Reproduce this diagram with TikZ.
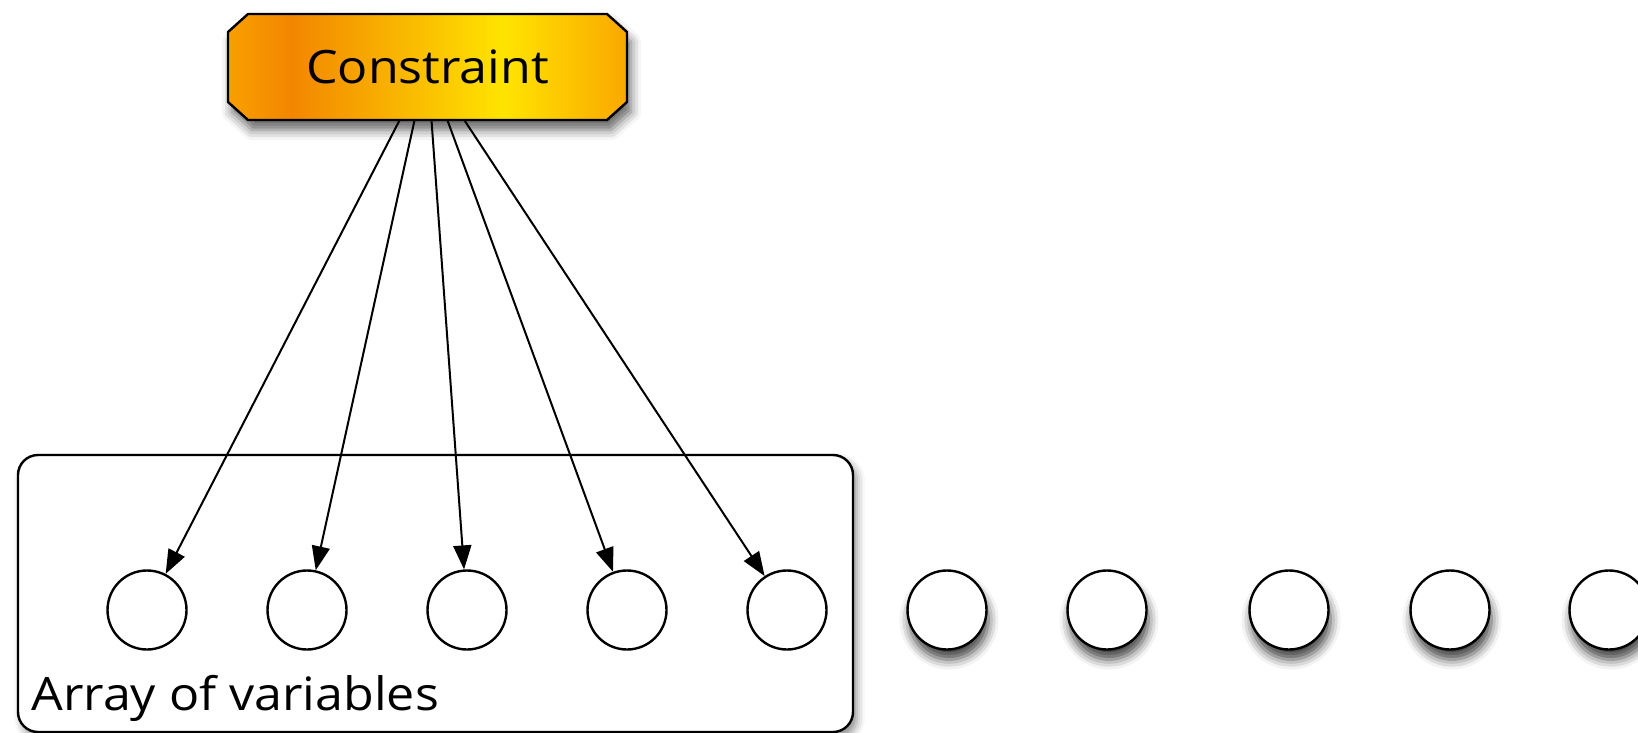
\documentclass[tikz,border=0pt]{standalone}
\usepackage{fontspec}
\setmainfont[FakeStretch=1.09]{Open Sans}
\usetikzlibrary{shadows.blur,arrows.meta,calc}
\definecolor{or1}{RGB}{248,160,0}
\definecolor{or2}{RGB}{243,134,0}
\definecolor{yl}{RGB}{255,228,0}
\definecolor{or3}{RGB}{250,168,0}
\pgfdeclarehorizontalshading{consshade}{100bp}{color(0bp)=(or1); color(25bp)=(or1); color(33bp)=(or2); color(59.5bp)=(yl); color(75bp)=(or3); color(100bp)=(or3)}
\tikzset{
  cons/.style={rectangle, minimum width=199.5pt, minimum height=53pt, inner sep=0pt,
    font=\fontsize{23}{28}\selectfont},
  consbg/.style={draw=black, line width=1.2pt, line join=miter, shading=consshade,
    blur shadow={shadow xshift=2pt, shadow yshift=-5pt, shadow blur radius=5pt, shadow opacity=60}},
  container/.style={draw, line width=1.2pt, rounded corners=10pt, fill=white,
    minimum width=417.5pt, minimum height=138.5pt, inner sep=0pt,
    blur shadow={shadow xshift=2pt, shadow yshift=-3pt, shadow blur radius=4pt, shadow opacity=45}},
  var/.style={circle, draw, line width=1.2pt, fill=white, minimum size=39.5pt, inner sep=0pt},
  svar/.style={var, blur shadow={shadow xshift=1pt, shadow yshift=-5pt, shadow blur radius=5pt, shadow opacity=75}},
  lbl/.style={font=\fontsize{23}{28}\selectfont, inner sep=0pt, anchor=base west},
  arr/.style={draw=black, line width=1pt, -{Triangle[length=12pt,width=9pt,fill=black]}}
}
\begin{document}
\begin{tikzpicture}[x=0.5pt,y=-0.5pt]
\useasboundingbox (0,0) rectangle (1638,733);
\node[container] (box) at (435.5,593.5) {};
\node[lbl] (lab) at (31,710) {Array of variables};
\coordinate (cnw) at (228,14);
\coordinate (cse) at (627,120);
\path[consbg] ($(cnw)+(20,0)$) -- ($(cse|-cnw)+(-20,0)$) -- ($(cse|-cnw)+(0,18)$) -- ($(cse)+(0,-18)$)
  -- ($(cse)+(-20,0)$) -- ($(cnw|-cse)+(20,0)$) -- ($(cnw|-cse)+(0,-18)$) -- ($(cnw)+(0,18)$) -- cycle;
\node[cons] (c) at (427.5,67) {Constraint};
\node[var] (v1) at (147,610) {};
\node[var] (v2) at (307,610) {};
\node[var] (v3) at (467,610) {};
\node[var] (v4) at (627,610) {};
\node[var] (v5) at (787,610) {};
\node[svar] (v6) at (947,610) {};
\node[svar] (v7) at (1107,610) {};
\node[svar] (v8) at (1289,610) {};
\node[svar] (v9) at (1450,610) {};
\node[svar] (v10) at (1609,610) {};
\draw[arr] ($(c.south)+(-28,0)$) -- (v1);
\draw[arr] ($(c.south)+(-13,0)$) -- (v2);
\draw[arr] ($(c.south)+(4,0)$) -- (v3);
\draw[arr] ($(c.south)+(20,0)$) -- (v4);
\draw[arr] ($(c.south)+(37,0)$) -- (v5);
\end{tikzpicture}
\end{document}
